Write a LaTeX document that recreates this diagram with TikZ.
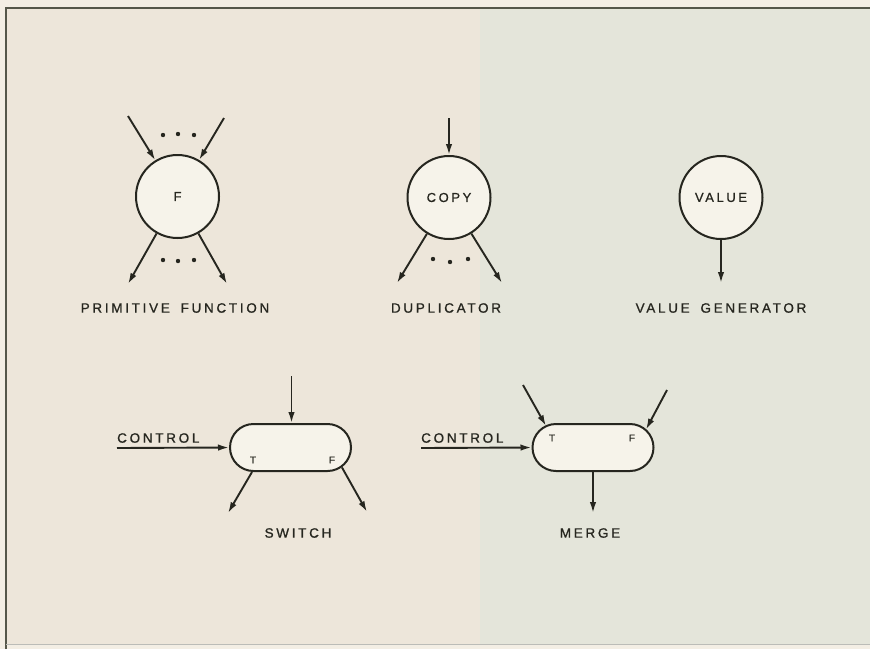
\documentclass[tikz,border=0pt]{standalone}
\usepackage{fontspec}
\setmainfont{Liberation Sans}[LetterSpace=20,FakeBold=0.9]
\usetikzlibrary{arrows.meta,calc}
\definecolor{bgL}{HTML}{EDE6DA}
\definecolor{bgR}{HTML}{E4E5DA}
\definecolor{bgOut}{HTML}{F3EEE4}
\definecolor{frameC}{HTML}{55574A}
\definecolor{ink}{HTML}{26261F}
\definecolor{fillC}{HTML}{F6F3EA}
\tikzset{
  opcircle/.style={circle,draw=ink,line width=2pt,fill=fillC,minimum size=83pt,inner sep=0pt,font=\fontsize{13}{15}\selectfont,text=ink},
  opbox/.style={rectangle,rounded corners=23.5pt,draw=ink,line width=2pt,fill=fillC,minimum width=121pt,minimum height=47pt,inner sep=0pt},
  arr/.style={draw=ink,line width=1.9pt,-{Latex[length=11pt,width=6.5pt]}},
  lbl/.style={font=\fontsize{13.5}{15}\selectfont,text=ink,inner sep=0pt},
  small/.style={font=\fontsize{10}{11}\selectfont,text=ink,inner sep=0pt},
  dot/.style={circle,fill=ink,inner sep=0pt,minimum size=4.4pt}
}
\begin{document}
\begin{tikzpicture}[x=1pt,y=-1pt]
\useasboundingbox (0,0) rectangle (870,649);
% background
\fill[bgOut] (0,0) rectangle (870,649);
\fill[bgL] (6,8) rectangle (480,644);
\fill[bgR] (480,8) rectangle (870,644);
\draw[frameC,line width=2pt] (6,649) -- (6,8) -- (870,8);
\draw[frameC!40,line width=1pt] (6,644) -- (870,644);

% primitive function
\node[opcircle] (F) at (177.5,196.5) {F};
\coordinate (fi1) at (128,116);
\coordinate (fi2) at (224,118);
\coordinate (fo1) at (128,284);
\coordinate (fo2) at (227,284);
\draw[arr] (fi1) -- (F);
\draw[arr] (fi2) -- (F);
\draw[arr] (F) -- (fo1);
\draw[arr] (F) -- (fo2);
\node[dot] (fd1) at (163,135) {};
\node[dot] (fd2) at (178,134) {};
\node[dot] (fd3) at (194,135) {};
\node[dot] (fd4) at (163,260) {};
\node[dot] (fd5) at (178,261) {};
\node[dot] (fd6) at (194,260) {};
\node[lbl] (lf) at (175,308) {PRIMITIVE\hspace{0.8em}FUNCTION};

% duplicator
\node[opcircle] (C) at (449,197.5) {COPY};
\coordinate (ci) at (449,118);
\coordinate (co1) at (397,283);
\coordinate (co2) at (502,283);
\draw[arr] (ci) -- (C);
\draw[arr] (C) -- (co1);
\draw[arr] (C) -- (co2);
\node[dot] (cd1) at (433,259) {};
\node[dot] (cd2) at (450,262) {};
\node[dot] (cd3) at (468,259) {};
\node[lbl] (lc) at (446,308) {DUPLICATOR};

% value generator
\node[opcircle] (V) at (721,197.5) {VALUE};
\coordinate (vo) at (721,283);
\draw[arr] (V) -- (vo);
\node[lbl] (lv) at (721,308) {VALUE\hspace{0.8em}GENERATOR};

% switch
\node[opbox] (S) at (290.5,447.5) {};
\node[small] (ST) at (253,460) {T};
\node[small] (SF) at (332,460) {F};
\coordinate (si) at (291.5,376);
\coordinate (sc) at (117,448);
\coordinate (so1) at (228,513);
\coordinate (so2) at (367,512);
\draw[arr] (si) -- (S.north -| si);
\draw[arr] (sc) -- (S.west);
\draw[arr] ($(S.south)+(-38.5,0)$) -- (so1);
\draw[arr] ($(S.center)+(51.5,20)$) -- (so2);
\node[lbl,anchor=south west] (scl) at (117,443) {CONTROL};
\node[lbl] (ls) at (298,533) {SWITCH};

% merge
\node[opbox] (M) at (593,447.5) {};
\node[small] (MT) at (552,438) {T};
\node[small] (MF) at (632,438) {F};
\coordinate (mi1) at (523,385);
\coordinate (mi2) at (667,390);
\coordinate (mc) at (421,448);
\coordinate (mo) at (593,513);
\draw[arr] (mi1) -- ($(M.center)+(-47,-21.5)$);
\draw[arr] (mi2) -- ($(M.center)+(53,-18)$);
\draw[arr] (mc) -- (M.west);
\draw[arr] (M.south) -- (mo);
\node[lbl,anchor=south west] (mcl) at (421,443) {CONTROL};
\node[lbl] (lm) at (590,533) {MERGE};
\end{tikzpicture}
\end{document}
